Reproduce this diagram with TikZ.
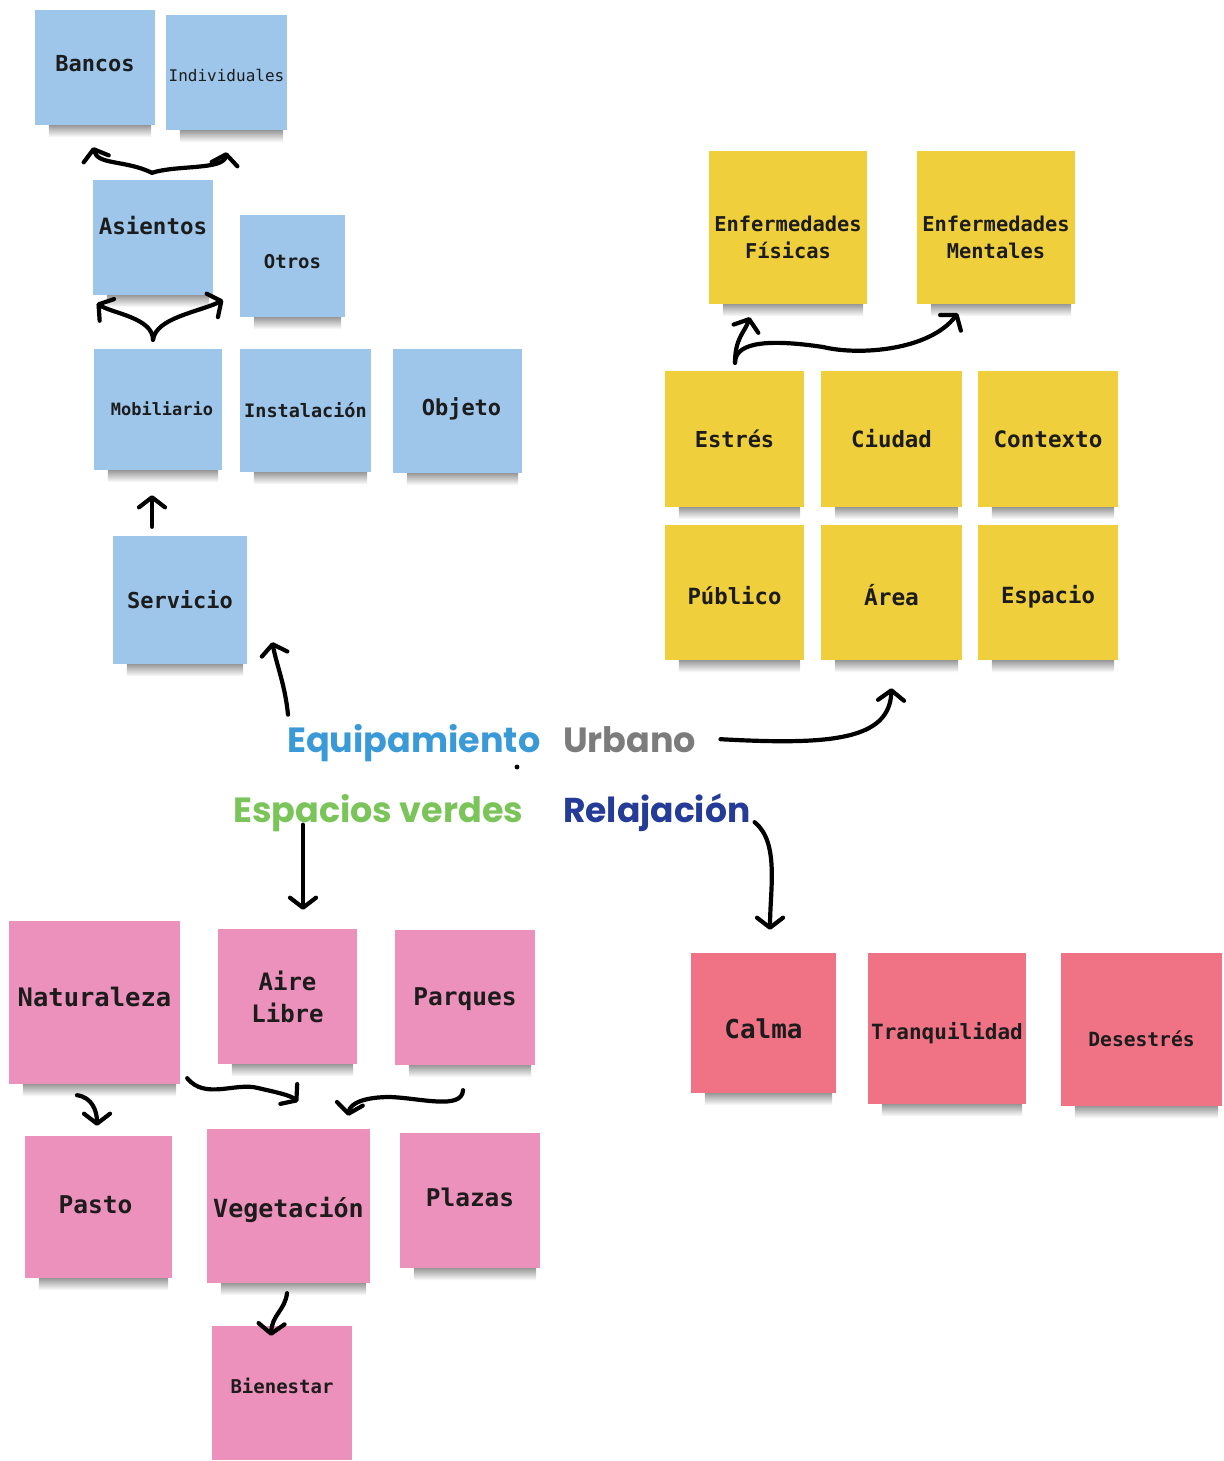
\documentclass[tikz,border=0pt]{standalone}
\usepackage{fontspec}
\setmonofont{DejaVu Sans Mono}
\newfontfamily\pop{Poppins}
\usetikzlibrary{arrows.meta,calc}
\definecolor{nblue}{HTML}{9DC6EA}
\definecolor{nyellow}{HTML}{F0CF3D}
\definecolor{npink}{HTML}{EC91BC}
\definecolor{nred}{HTML}{EF7385}
\definecolor{ntext}{HTML}{1C1C1C}
\definecolor{tblue}{HTML}{3A9AD8}
\definecolor{tgrey}{HTML}{7C7C7C}
\definecolor{tgreen}{HTML}{7BC45A}
\definecolor{tnavy}{HTML}{243B97}
\begin{document}
\begin{tikzpicture}[x=1pt,y=-1pt,
  note/.style={rectangle, inner sep=0pt},
  every label/.style={text=ntext, inner sep=0pt, align=center},
  fs/.style={font={\ttfamily\bfseries\pgfmathsetmacro\bsk{#1*1.33}\fontsize{#1}{\bsk}\selectfont}},
  fr/.style={font={\ttfamily\pgfmathsetmacro\bsk{#1*1.33}\fontsize{#1}{\bsk}\selectfont}},
  big/.style={font={\pop\bfseries\fontsize{#1}{#1}\selectfont}, inner sep=0pt, anchor=base west},
  arr/.style={line width=4.2pt, line cap=round, line join=round, -{Straight Barb[length=10pt,width=26pt,round]}},
  shadowbox/.style={top color=black!40, bottom color=white}
]
\useasboundingbox (0,0) rectangle (1223,1461);
\fill[white] (0,0) rectangle (1223,1461);

% blue notes
\node[note, fill=nblue, minimum width=120, minimum height=115, label={[fs=22,yshift=4]center:Bancos}] (bancos) at (95,67.5) {};
\node[note, fill=nblue, minimum width=121, minimum height=115, label={[fr=16,yshift=-3]center:Individuales}] (indiv) at (226.5,72.5) {};
\node[note, fill=nblue, minimum width=120, minimum height=115, label={[fs=22.5,yshift=12]center:Asientos}] (asientos) at (153,237.5) {};
\node[note, fill=nblue, minimum width=105, minimum height=102, label={[fs=19,yshift=4]center:Otros}] (otros) at (292.5,266) {};
\node[note, fill=nblue, minimum width=128, minimum height=121, label={[fs=17,xshift=4,yshift=1]center:Mobiliario}] (mobil) at (158,409.5) {};
\node[note, fill=nblue, minimum width=131, minimum height=123, label={[fs=18.5]center:Instalación}] (instal) at (305.5,410.5) {};
\node[note, fill=nblue, minimum width=129, minimum height=124, label={[fs=22,xshift=4,yshift=2]center:Objeto}] (objeto) at (457.5,411) {};
\node[note, fill=nblue, minimum width=134, minimum height=128, label={[fs=22]center:Servicio}] (servicio) at (180,600) {};

% yellow notes
\node[note, fill=nyellow, minimum width=158, minimum height=153, label={[fs=20.4,yshift=-10]center:Enfermedades\\Físicas}] (efis) at (788,227.5) {};
\node[note, fill=nyellow, minimum width=158, minimum height=153, label={[fs=20.4,yshift=-10]center:Enfermedades\\Mentales}] (ment) at (996,227.5) {};
\node[note, fill=nyellow, minimum width=139, minimum height=136, label={[fs=22]center:Estrés}] (estres) at (734.5,439) {};
\node[note, fill=nyellow, minimum width=141, minimum height=136, label={[fs=22.4]center:Ciudad}] (ciudad) at (891.5,439) {};
\node[note, fill=nyellow, minimum width=140, minimum height=136, label={[fs=22.6]center:Contexto}] (contexto) at (1048,439) {};
\node[note, fill=nyellow, minimum width=139, minimum height=135, label={[fs=22.3,yshift=-3]center:Público}] (publico) at (734.5,592.5) {};
\node[note, fill=nyellow, minimum width=141, minimum height=135, label={[fs=22.8,yshift=-3]center:Área}] (area) at (891.5,592.5) {};
\node[note, fill=nyellow, minimum width=140, minimum height=135, label={[fs=22.3,yshift=-4]center:Espacio}] (espacio) at (1048,592.5) {};

% pink notes
\node[note, fill=npink, minimum width=171, minimum height=163, label={[fs=25.5,yshift=6]center:Naturaleza}] (natur) at (94.5,1002.5) {};
\node[note, fill=npink, minimum width=139, minimum height=135, label={[fs=24]center:Aire\\Libre}] (aire) at (287.5,996.5) {};
\node[note, fill=npink, minimum width=140, minimum height=135, label={[fs=24.5,yshift=-2]center:Parques}] (parques) at (465,997.5) {};
\node[note, fill=npink, minimum width=147, minimum height=142, label={[fs=24.5,xshift=-3,yshift=2]center:Pasto}] (pasto) at (98.5,1207) {};
\node[note, fill=npink, minimum width=163, minimum height=154, label={[fs=25,yshift=-4]center:Vegetación}] (veget) at (288.5,1206) {};
\node[note, fill=npink, minimum width=140, minimum height=135, label={[fs=24.4,yshift=3]center:Plazas}] (plazas) at (470,1200.5) {};
\node[note, fill=npink, minimum width=140, minimum height=134, label={[fs=19,yshift=7]center:Bienestar}] (bienestar) at (282,1393) {};

% red notes
\node[note, fill=nred, minimum width=145, minimum height=140, label={[fs=26,yshift=-6]center:Calma}] (calma) at (763.5,1023) {};
\node[note, fill=nred, minimum width=158, minimum height=151, label={[fs=21,yshift=-5]center:Tranquilidad}] (tranq) at (947,1028.5) {};
\node[note, fill=nred, minimum width=161, minimum height=153, label={[fs=19.6,yshift=-9]center:Desestrés}] (deses) at (1141.5,1029.5) {};

% shadows
\foreach \n in {bancos,indiv,asientos,otros,mobil,instal,objeto,servicio,efis,ment,estres,ciudad,contexto,publico,area,espacio,natur,aire,parques,pasto,veget,plazas,calma,tranq,deses}{
  \shade[shadowbox] ($(\n.south west)+(14,0)$) rectangle ($(\n.south east)+(-4,12)$);
}

% central labels
\node[big=35, text=tblue] (equip) at (287,752) {Equipamiento};
\node[big=35, text=tgrey] (urbano) at (563,752) {Urbano};
\node[big=35, text=tgreen] (espacios) at (233,822) {Espacios verdes};
\node[big=34.5, text=tnavy] (relaj) at (563,822) {Relajación};
\fill (517,767) circle (2.4);

% arrows
\draw[arr] ($(equip.west)+(1,-28)$) .. controls +(-3,-30) and +(5,25) .. ($(servicio.south east)+(25,-22)$);
\draw[arr] ($(servicio.north)+(-28,-9)$) -- ($(mobil.south)+(-6,25)$);
\draw[arr] ($(mobil.north)+(-5,-9)$) .. controls +(0,-22) and +(15,10) .. ($(asientos.south west)+(4,8)$);
\draw[arr] ($(mobil.north)+(-5,-9)$) .. controls +(3,-22) and +(-25,12) .. ($(asientos.south east)+(10,5)$);
\draw[arr] ($(asientos.north)+(-1,-7)$) .. controls +(-27,-13) and +(5,18) .. ($(bancos.south)+(-2,22)$);
\draw[arr] ($(asientos.north)+(-1,-7)$) .. controls +(25,-8) and +(-3,18) .. ($(indiv.south)+(0,22)$);
\draw[arr] ($(urbano.east)+(24,0)$) .. controls +(110,6) and +(-2,52) .. ($(area.south)+(0,28)$);
\draw[arr] ($(estres.north)+(0.5,-8)$) .. controls +(0,-25) and +(-5,15) .. ($(efis.south west)+(41,13)$);
\draw[arr] ($(estres.north)+(0.5,-8)$) .. controls +(0,-23) and +(-47,-7) .. (823,347) .. controls (860,356) and (930,350) .. ($(ment.south west)+(41,9)$);
\draw[arr] ($(espacios.west)+(70,12)$) -- ($(aire.north)+(15.5,-19)$);
\draw[arr] ($(relaj.east)+(4,10)$) .. controls +(25,20) and +(0,-40) .. ($(calma.north)+(6.5,-23)$);
\draw[arr] ($(natur.south)+(-17.5,11)$) .. controls +(15,2) and +(0,-15) .. ($(pasto.north)+(-1.5,-10)$);
\draw[arr] ($(natur.south east)+(7,-6)$) .. controls +(18,22) and +(-23,-6) .. (258,1088) .. controls (275,1092) and (290,1095) .. ($(veget.north)+(9.5,-27)$);
\draw[arr] ($(parques.south)+(-2,25)$) .. controls +(-1,20) and +(30,1) .. (390,1097) .. controls (365,1097) and (350,1103) .. ($(veget.north east)+(-22,-13)$);
\draw[arr] ($(veget.south)+(-1.5,10)$) .. controls +(-2,17) and +(1,-21) .. ($(bienestar.north)+(-11,10)$);
\end{tikzpicture}
\end{document}
